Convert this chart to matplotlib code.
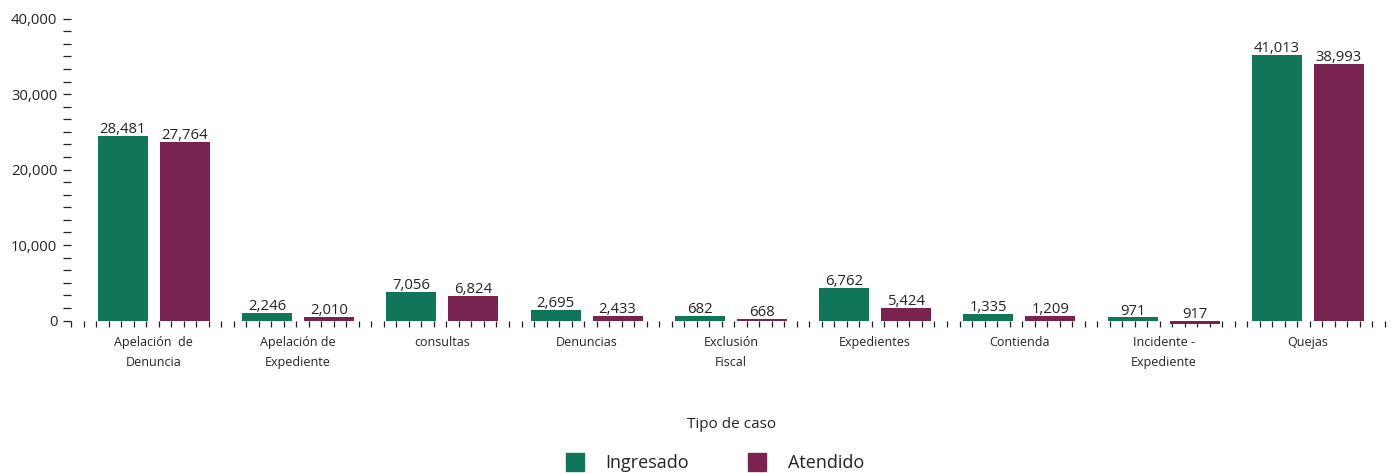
import numpy as np
import matplotlib
matplotlib.use("Agg")
import matplotlib.pyplot as plt
from matplotlib.lines import Line2D
from matplotlib.transforms import blended_transform_factory

# ---------------- data ----------------
categories = ["Apelación  de\nDenuncia", "Apelación de\nExpediente", "consultas",
              "Denuncias", "Exclusión\nFiscal", "Expedientes", "Contienda",
              "Incidente -\nExpediente", "Quejas"]
series_names = ["Ingresado", "Atendido"]
# values shown in the data labels
ingresado_labels = [28481, 2246, 7056, 2695, 682, 6762, 1335, 971, 41013]
atendido_labels = [27764, 2010, 6824, 2433, 668, 5424, 1209, 917, 38993]
# bar heights as drawn in the reference
ingresado_bars = [24450, 990, 3780, 1390, 640, 4310, 860, 420, 35190]
atendido_bars = [23660, 500, 3250, 600, 200, 1660, 600, -450, 34000]
y_ticks = [0, 10000, 20000, 30000, 40000]

# ---------------- style ----------------
GREEN = "#107559"
MAROON = "#782350"
TXT = "#252423"
FONT = ["Open Sans", "DejaVu Sans"]
plt.rcParams["font.family"] = FONT

W, H, DPI = 1397, 473, 100
fig = plt.figure(figsize=(W / DPI, H / DPI), dpi=DPI)

# axes placement in pixels
left_px, right_px = 71, 1385
base_px, top_px = 320.5, 18.7
ax = fig.add_axes([left_px / W, 1 - base_px / H,
                   (right_px - left_px) / W, (base_px - top_px) / H])

n = len(categories)
x = np.arange(n)
slot_px = 144.26
first_px = 153.8
x0 = (left_px - first_px) / slot_px
x1 = (right_px - first_px) / slot_px
ax.set_xlim(x0, x1)
ax.set_ylim(0, 40000)

bw = 50 / slot_px
off = 31 / slot_px
b1 = ax.bar(x - off, ingresado_bars, width=bw, color=GREEN, clip_on=False, zorder=3)
b2 = ax.bar(x + off, atendido_bars, width=bw, color=MAROON, clip_on=False, zorder=3)

for bars, labels in ((b1, ingresado_labels), (b2, atendido_labels)):
    for rect, lab in zip(bars, labels):
        h = max(rect.get_height(), 0)
        ax.annotate(f"{lab:,}", (rect.get_x() + rect.get_width() / 2, h),
                    xytext=(0, -1), textcoords="offset points",
                    ha="center", va="bottom", fontsize=10.7, color=TXT,
                    annotation_clip=False, zorder=4)

for s in ax.spines.values():
    s.set_visible(False)

# y axis ticks
ax.set_yticks(y_ticks)
ax.set_yticklabels([f"{v:,}" for v in y_ticks])
ax.set_yticks(np.arange(0, 40001, 10000 / 6), minor=True)
ax.tick_params(axis="y", which="both", direction="out", length=5.8, width=0.9,
               color="#222222", labelsize=10.7, labelcolor=TXT, pad=4)

# x axis: decorative ticks only
ax.set_xticks([])
ax.set_xticks(np.linspace(x0, x1, 106), minor=True)
ax.tick_params(axis="x", which="minor", direction="out", length=4, width=0.9,
               color="#222222", pad=0)
ax.tick_params(axis="x", which="major", length=0, labelbottom=False)

# category labels
tr = blended_transform_factory(ax.transData, fig.transFigure)
for xi, cat in zip(x, categories):
    ax.text(xi, 1 - 336 / H, cat, transform=tr, ha="center", va="top",
            fontsize=9, color=TXT, linespacing=1.7)

fig.text(732 / W, 1 - 424 / H, "Tipo de caso",
         ha="center", va="center", fontsize=11, color=TXT)

handles = [Line2D([], [], marker="s", linestyle="none", markersize=13,
                  markerfacecolor=GREEN, markeredgecolor=GREEN),
           Line2D([], [], marker="s", linestyle="none", markersize=13,
                  markerfacecolor=MAROON, markeredgecolor=MAROON)]
fig.legend(handles, series_names, loc="center", bbox_to_anchor=(715 / W, 1 - 463 / H),
           ncol=2, frameon=False, fontsize=13, handlelength=1.0,
           handletextpad=1.22, columnspacing=3.25, labelcolor=TXT,
           borderaxespad=0, borderpad=0)

fig.savefig("out.png", dpi=DPI)
